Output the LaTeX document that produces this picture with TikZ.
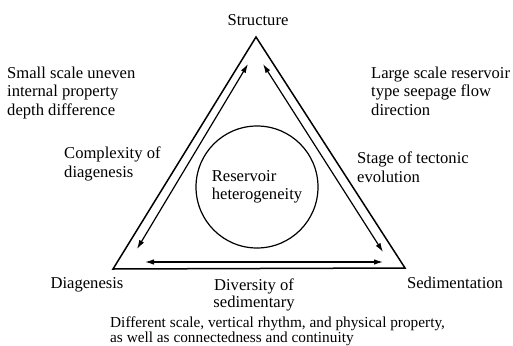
\documentclass[tikz,border=0pt]{standalone}
\usepackage{fontspec}
\setmainfont{Liberation Serif}
\usetikzlibrary{arrows.meta}

\begin{document}
\begin{tikzpicture}[x=1pt, y=-1pt,
  txt/.style={inner sep=0pt, align=left, font=\fontsize{16.6}{18.5}\selectfont},
  twoway/.style={line width=1.2pt, {Latex[length=9pt,width=5.5pt]}-{Latex[length=9pt,width=5.5pt]}}]
  \useasboundingbox (0,0) rectangle (513,345);

  % Outer triangle
  \coordinate (top) at (256,37);
  \coordinate (bl) at (113,269);
  \coordinate (br) at (405,268);
  \draw[line width=1.5pt] (top) -- (bl) -- (br) -- cycle;

  % Double arrows along the sides
  \coordinate (l1) at (248,64);
  \coordinate (l2) at (137,249);
  \coordinate (r1) at (263,64);
  \coordinate (r2) at (383,252);
  \coordinate (b1) at (145,262);
  \coordinate (b2) at (383,262);
  \draw[twoway] (l1) -- (l2);
  \draw[twoway] (r1) -- (r2);
  \draw[twoway] (b1) -- (b2);

  % Circle in the middle
  \node[txt, circle, draw, line width=1.2pt, minimum size=122pt] (core) at (257,187) {Reservoir\\heterogeneity};

  % Corner labels
  \node[txt, anchor=base] (structure) at (258,26) {Structure};
  \node[txt, anchor=base] (diagenesis) at (87,288) {Diagenesis};
  \node[txt, anchor=base] (sedimentation) at (455,288) {Sedimentation};

  % Side labels (base = last line)
  \node[txt, anchor=base west] (smallscale) at (7,115) {Small scale uneven\\internal property\\depth difference};
  \node[txt, anchor=base west] (complexity) at (64,177) {Complexity of\\diagenesis};
  \node[txt, anchor=base west] (largescale) at (371,115) {Large scale reservoir\\type seepage flow\\direction};
  \node[txt, anchor=base west] (tectonic) at (357,182) {Stage of tectonic\\evolution};
  \node[txt, anchor=base, align=center, font=\fontsize{16.6}{17}\selectfont] (diversity) at (254,307) {Diversity of\\sedimentary};
  \node[txt, anchor=base west, font=\fontsize{15.3}{15}\selectfont] (rhythm) at (110,342) {Different scale, vertical rhythm, and physical property,\\as well as connectedness and continuity};
\end{tikzpicture}
\end{document}
